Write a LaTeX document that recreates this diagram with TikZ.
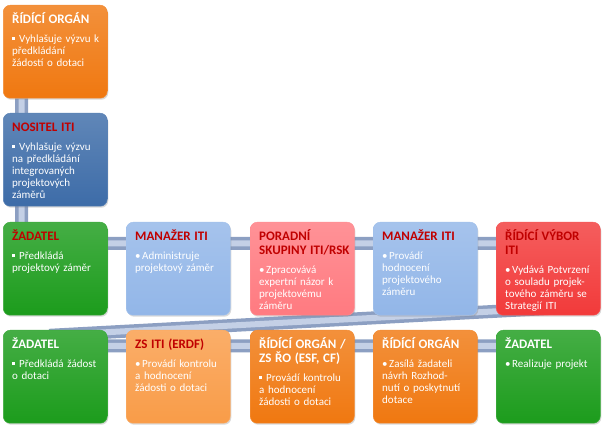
\documentclass[tikz,border=0pt]{standalone}
\usepackage{fontspec}
\setmainfont{Carlito}
\usepackage{xcolor}
\usetikzlibrary{positioning,shadows,backgrounds}

\definecolor{oranzova}{HTML}{F07810}
\definecolor{svetleoranz}{HTML}{F99C48}
\definecolor{tmavemodra}{HTML}{3D6CA8}
\definecolor{svetlemodra}{HTML}{92B6E8}
\definecolor{zelena}{HTML}{1C9C1C}
\definecolor{ruzova}{HTML}{FF7A80}
\definecolor{cervena}{HTML}{F23A3A}
\definecolor{titcervena}{HTML}{C00000}
\definecolor{pruh}{HTML}{8C9FC2}
\definecolor{pruhsvetly}{HTML}{C4D0E6}

\newcommand{\ctverec}{\makebox[7pt][l]{\rule[2pt]{2.8pt}{2.8pt}}}
\newcommand{\tecka}{\makebox[7pt][l]{\textbullet}}
\newcommand{\titul}[2]{{\fontsize{13}{14}\selectfont\bfseries\color{#1}\rule{0pt}{12pt}#2\par}\vspace{6.8pt}}
\newcommand{\polozka}[2]{\noindent\hangindent=7pt\hangafter=1 #1#2}

\begin{document}
\begin{tikzpicture}[x=1pt,y=1pt,
  krabice/.style={draw=#1!85!white, line width=0.5pt, rounded corners=7pt,
    top color=#1!82!white, bottom color=#1, anchor=north west,
    minimum width=104pt, minimum height=93pt, inner sep=0pt,
    drop shadow={opacity=0.3, shadow xshift=1pt, shadow yshift=-1.5pt}},
  popis/.style={inner sep=0pt, text width=92pt, align=left, text=white,
    font=\fontsize{11}{12.2}\selectfont},
  pruhy/.style={draw=pruh, double=pruhsvetly, double distance=6pt, line width=3.5pt}]
\useasboundingbox (0,0) rectangle (602,427);

% prvni sloupec nahore
\node[krabice=oranzova] (ro1) at (3,422) {};
\node[popis, below right=6pt and 9pt of ro1.north west] (ro1t)
  {\titul{white}{ŘÍDÍCÍ ORGÁN}\polozka{\ctverec}{Vyhlašuje výzvu k\\předkládání\\žádostí o dotaci}};
\node[krabice=tmavemodra] (nos) at (3,314) {};
\node[popis, below right=6pt and 9pt of nos.north west] (nost)
  {\titul{titcervena}{NOSITEL ITI}\polozka{\ctverec}{Vyhlašuje výzvu\\na předkládání\\integrovaných\\projektových\\záměrů}};

% druha rada
\node[krabice=zelena] (zad1) at (3,205) {};
\node[popis, below right=6pt and 9pt of zad1.north west] (zad1t)
  {\titul{titcervena}{ŽADATEL}\polozka{\ctverec}{Předkládá\\projektový záměr}};
\node[krabice=svetlemodra] (man1) at (126,205) {};
\node[popis, below right=6pt and 9pt of man1.north west] (man1t)
  {\titul{titcervena}{MANAŽER ITI}\polozka{\tecka}{Administruje\\projektový záměr}};
\node[krabice=ruzova] (por) at (250,205) {};
\node[popis, below right=6pt and 9pt of por.north west] (port)
  {\titul{titcervena}{PORADNÍ\\SKUPINY ITI/RSK}\polozka{\tecka}{Zpracovává\\expertní názor k\\projektovému\\záměru}};
\node[krabice=svetlemodra] (man2) at (373,205) {};
\node[popis, below right=6pt and 9pt of man2.north west] (man2t)
  {\titul{titcervena}{MANAŽER ITI}\polozka{\tecka}{Provádí\\hodnocení\\projektového\\záměru}};
\node[krabice=cervena] (vyb) at (496,205) {};
\node[popis, below right=6pt and 9pt of vyb.north west] (vybt)
  {\titul{titcervena}{ŘÍDÍCÍ VÝBOR\\ITI}\polozka{\tecka}{Vydává Potvrzení\\o souladu projek-\\tového záměru se\\Strategií ITI}};

% treti rada
\node[krabice=zelena] (zad2) at (3,97) {};
\node[popis, below right=6pt and 9pt of zad2.north west] (zad2t)
  {\titul{white}{ŽADATEL}\polozka{\ctverec}{Předkládá žádost\\o dotaci}};
\node[krabice=svetleoranz] (zsiti) at (126,97) {};
\node[popis, below right=6pt and 9pt of zsiti.north west] (zsitit)
  {\titul{titcervena}{ZS ITI (ERDF)}\polozka{\tecka}{Provádí kontrolu\\a hodnocení\\žádosti o dotaci}};
\node[krabice=oranzova] (rozs) at (250,97) {};
\node[popis, below right=6pt and 9pt of rozs.north west] (rozst)
  {\titul{white}{ŘÍDÍCÍ ORGÁN /\\ZS ŘO (ESF, CF)}\polozka{\ctverec}{Provádí kontrolu\\a hodnocení\\žádosti o dotaci}};
\node[krabice=oranzova] (ro2) at (373,97) {};
\node[popis, below right=6pt and 9pt of ro2.north west] (ro2t)
  {\titul{white}{ŘÍDÍCÍ ORGÁN}\polozka{\tecka}{Zasílá žadateli\\návrh Rozhod-\\nutí o poskytnutí\\dotace}};
\node[krabice=zelena] (zad3) at (496,97) {};
\node[popis, below right=6pt and 9pt of zad3.north west] (zad3t)
  {\titul{white}{ŽADATEL}\polozka{\tecka}{Realizuje projekt}};

% spojovaci pruh za krabicemi
\begin{scope}[on background layer]
\draw[pruhy] ([xshift=18.5pt]ro1.south west) |- ([yshift=-21.5pt]vyb.north)
  -- ([yshift=7pt]vyb.south) -- ([yshift=-5pt]zad2.north)
  -- ([yshift=-16pt]zad2.north) -- ([yshift=-16pt]zad3.north);
\end{scope}
\end{tikzpicture}
\end{document}
